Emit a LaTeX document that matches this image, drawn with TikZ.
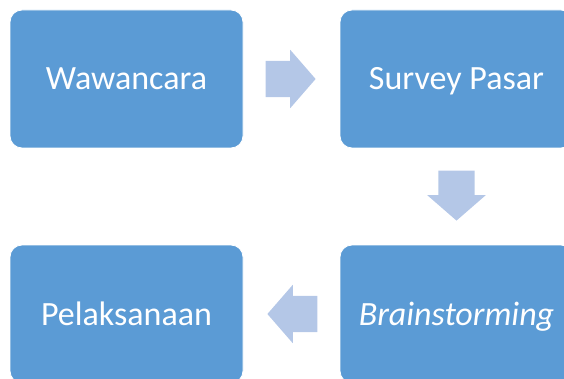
\documentclass[tikz,border=0pt]{standalone}
\usepackage{fontspec}
\setmainfont{Carlito}
\usetikzlibrary{calc,shapes.arrows}
\definecolor{boxblue}{RGB}{91,155,213}
\definecolor{arrowblue}{RGB}{180,199,231}

\begin{document}
\begin{tikzpicture}[x=1pt, y=-1pt,
	step box/.style={draw=white, line width=0.8pt, fill=boxblue, rounded corners=12pt,
		minimum width=233pt, minimum height=138pt, inner sep=0pt,
		text=white, font=\fontsize{34}{40}\selectfont, text height=22pt, text depth=0pt},
	flow arrow/.style={single arrow, draw=none, fill=arrowblue, anchor=tail,
		inner xsep=0pt, inner ysep=18pt,
		minimum height=50pt, minimum width=58pt, single arrow head extend=11pt,
		single arrow tip angle=98}]
	%%%%% START %%%%%
	
	\useasboundingbox (0, 0) rectangle (564, 379);
	
	\node[step box] (wawancara) at (126.5, 79) {Wawancara};
	\node[step box] (survey) at (456.5, 79) {Survey Pasar};
	\node[step box] (brainstorm) at (456.5, 314) {\itshape Brainstorming};
	\node[step box] (pelaksanaan) at (126.5, 314) {Pelaksanaan};
	
	\node[flow arrow] (arrow1) at ($(wawancara.east)+(22, 0)$) {};
	\node[flow arrow, rotate=-90] (arrow2) at ($(survey.south)+(0, 22)$) {};
	\node[flow arrow, rotate=180] (arrow3) at ($(brainstorm.west)+(-22, 0)$) {};
	
	%%%%% END %%%%%
\end{tikzpicture}
\end{document}
